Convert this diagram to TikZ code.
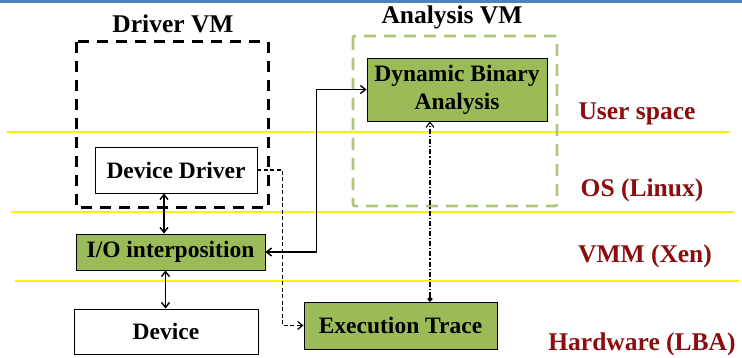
\documentclass[tikz,border=0pt]{standalone}
\usepackage{fontspec}
\setmainfont{Liberation Serif}
\usepackage{xcolor}
\usepackage{tikz}
\usetikzlibrary{arrows.meta,positioning,calc}
\definecolor{boxgreen}{HTML}{9BBB59}
\definecolor{framegreen}{HTML}{ADC67A}
\definecolor{layerred}{HTML}{8B0E0E}
\definecolor{topblue}{HTML}{4F81BD}
\definecolor{sepyellow}{HTML}{FFF200}

\begin{document}
\begin{tikzpicture}[x=1pt,y=-1pt,
  >={Straight Barb[length=5pt,width=8pt]},
  hdr/.style={font=\fontsize{25.5}{28}\selectfont\bfseries},
  layer/.style={font=\fontsize{25.5}{28}\selectfont\bfseries,text=layerred},
  box/.style={draw,line width=0.9pt,inner sep=0pt,align=center,
              font=\fontsize{23.5}{28}\selectfont\bfseries},
  gbox/.style={box,fill=boxgreen},
  sep/.style={sepyellow,line width=1.2pt},
  link/.style={line width=1.4pt},
]
\useasboundingbox (0,0) rectangle (742,358);
\fill[topblue] (0,0) rectangle (742,3);

% ---------- layers ----------
\draw[sep] (7,132) -- (730,132);
\draw[sep] (11,212) -- (734,212);
\draw[sep] (15,281) -- (739,281);
\node[layer] (user) at (637,114) {User space};
\node[layer] (os)   at (642,190) {OS (Linux)};
\node[layer] (vmm)  at (645,256) {VMM (Xen)};
\node[layer] (hw)   at (642,344) {Hardware (LBA)};

% ---------- VMs ----------
\draw[line width=3pt,dash pattern=on 11pt off 8pt] (76,42) rectangle (268,208);
\node[hdr] (drvvm) at (173,24) {Driver VM};
\draw[framegreen,line width=2.8pt,dash pattern=on 12pt off 8pt,rounded corners=2pt]
  (353,36) rectangle (557,206);
\node[hdr] (anavm) at (452,17) {Analysis VM};

% ---------- components ----------
\node[box,minimum width=162,minimum height=46] (drv) at (176,170) {Device Driver};
\node[gbox,minimum width=189,minimum height=36] (io) at (170.5,252) {I/O interposition};
\node[box,minimum width=184,minimum height=45] (dev) at (166,331.5) {Device};
\node[gbox,minimum width=193,minimum height=47] (trace) at (400.5,325.5) {Execution Trace};
\node[gbox,minimum width=180,minimum height=63] (dba) at (457,89.5)
  {Dynamic Binary\\Analysis};

% ---------- connectors ----------
\draw[link,<->] ([xshift=-6.5pt]io.north) -- ([xshift=-6.5pt]io.north |- drv.south);
\draw[link,<->] ([xshift=-5pt]io.south) -- ([xshift=-5pt]io.south |- dev.north);
\draw[link,<->] (io.east) -- ++(51,0) |- (dba.west);
\draw[link,->,line width=1.2pt,dash pattern=on 4pt off 2.5pt] (drv.east) -- ++(25,0) |- (trace.west);
\draw[link,{Circle[length=5pt]}->,line width=1.2pt,dash pattern=on 5pt off 2pt on 1.2pt off 2pt]
  ([xshift=29.5pt]trace.north) -- ([xshift=29.5pt]trace.north |- dba.south);
\end{tikzpicture}
\end{document}
